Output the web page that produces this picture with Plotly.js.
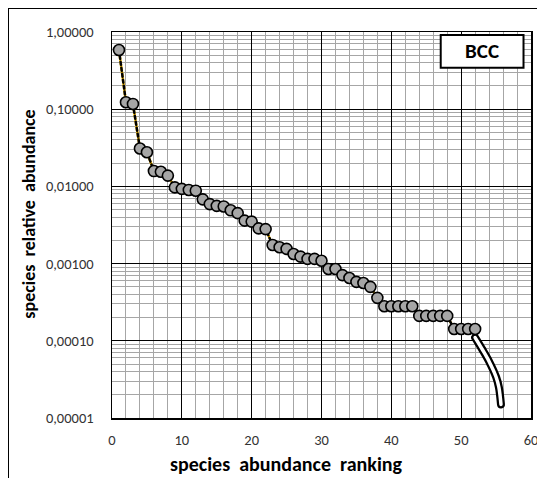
<!DOCTYPE html>
<html>
<head>
<meta charset="utf-8">
<script src="https://cdn.plot.ly/plotly-3.0.1.min.js"></script>
<style>
html,body{margin:0;padding:0;overflow:hidden;background:#fff;}
#frame{position:absolute;left:8px;top:8px;width:700px;height:700px;border:1.3px solid #000;box-sizing:border-box;}
#chart{position:absolute;left:0;top:0;width:537px;height:478px;}
#chart .scatterlayer .js-line{stroke-linecap:round;}
</style>
</head>
<body>
<div id="frame"></div>
<div id="chart"></div>
<script>
// species abundance ranking (x) and relative abundance (y)
const rank = [1,2,3,4,5,6,7,8,9,10,11,12,13,14,15,16,17,18,19,20,21,22,23,24,25,26,27,28,29,30,
  31,32,33,34,35,36,37,38,39,40,41,42,43,44,45,46,47,48,49,50,51,52];
const abundance = [0.585,0.123,0.117,0.031,0.0277,0.0158,0.0155,0.0138,0.0097,0.0093,0.0090,0.0088,
  0.0068,0.0059,0.0056,0.0055,0.0049,0.0045,0.0036,0.0035,0.00286,0.0028,0.00174,0.00163,0.00155,
  0.00133,0.00123,0.00115,0.00115,0.00109,0.00085,0.00085,0.00071,0.00065,0.00058,0.00056,0.0005,
  0.00036,0.00028,0.00028,0.00028,0.00028,0.00028,0.00021,0.00021,0.00021,0.00021,0.00021,
  0.000142,0.000142,0.000142,0.000142];
// tail curve
const tailX = [52,53,54,55,55.4,55.7];
const tailY = [0.00011,0.000078,0.000054,0.000034,0.000025,0.000015];
const xTicks = [0,10,20,30,40,50,60];
const yTicks = [1,0.1,0.01,0.001,0.0001,0.00001];
const panelLabel = 'BCC';
const xTitle = 'species&nbsp;&nbsp;abundance&nbsp;&nbsp;ranking';
const yTitle = 'species&nbsp;&nbsp;relative&nbsp;&nbsp;abundance';

const FONT = 'Carlito, Lato, "Liberation Sans", sans-serif';

const traces = [
  {x: rank, y: abundance, mode: 'lines', line: {color: '#FFC000', width: 2.5}, hoverinfo: 'skip'},
  {x: rank, y: abundance, mode: 'lines', line: {color: '#000', width: 2.5, dash: 'dot'}, hoverinfo: 'skip'},
  {x: tailX, y: tailY, mode: 'lines', line: {color: '#000', width: 8, shape: 'spline'}},
  {x: tailX, y: tailY, mode: 'lines', line: {color: '#fff', width: 3.5, shape: 'spline'}},
  {x: rank, y: abundance, mode: 'markers',
   marker: {size: 11, color: '#A6A6A6', line: {color: '#000', width: 1.6}}}
];

const W = 537, H = 478, L = 111.5, R = 531.5, T = 32, B = 418;
const px = v => (v - L) / (R - L);
const py = v => (B - v) / (B - T);

const layout = {
  width: W, height: H,
  margin: {l: L, r: W - R, t: T, b: H - B, pad: 0},
  paper_bgcolor: 'rgba(0,0,0,0)',
  plot_bgcolor: '#fff',
  showlegend: false,
  separators: ', ',
  font: {family: FONT, color: '#333', size: 14},
  xaxis: {
    range: [0, 60], tickvals: xTicks, ticktext: xTicks.map(String),
    showgrid: true, gridcolor: '#000', gridwidth: 1,
    minor: {dtick: 2, showgrid: true, gridcolor: '#A6A6A6', gridwidth: 1},
    showline: true, linecolor: '#000', linewidth: 1.5, mirror: true,
    zeroline: false, ticks: '', ticklabelstandoff: 8, ticklabeloverflow: 'allow',
    tickfont: {family: FONT, size: 14.5, color: '#333'}
  },
  yaxis: {
    type: 'log', range: [-5, 0], tickvals: yTicks, tickformat: '.5f',
    showgrid: true, gridcolor: '#000', gridwidth: 1,
    minor: {dtick: 'D1', showgrid: true, gridcolor: '#A6A6A6', gridwidth: 1},
    showline: true, linecolor: '#000', linewidth: 1.5, mirror: true,
    zeroline: false, ticks: '', ticklabelstandoff: 14, ticklabeloverflow: 'allow',
    tickfont: {family: FONT, size: 14.5, color: '#333'}
  },
  shapes: [
    {type: 'rect', xref: 'paper', yref: 'paper', x0: px(441), x1: px(524), y0: py(67.7), y1: py(35),
     line: {color: '#000', width: 2}, fillcolor: '#fff', layer: 'above'}
  ],
  annotations: [
    {xref: 'paper', yref: 'paper', x: px(482.5), y: py(51.5), text: '<b>' + panelLabel + '</b>',
     showarrow: false, font: {family: FONT, size: 21, color: '#000'}, xanchor: 'center', yanchor: 'middle'},
    {xref: 'paper', yref: 'paper', x: px(286), y: py(464), text: '<b>' + xTitle + '</b>',
     showarrow: false, font: {family: FONT, size: 20, color: '#000'}, xanchor: 'center', yanchor: 'middle'},
    {xref: 'paper', yref: 'paper', x: px(28), y: py(214), text: '<b>' + yTitle + '</b>', textangle: -90,
     showarrow: false, font: {family: FONT, size: 18, color: '#000'}, xanchor: 'center', yanchor: 'middle'}
  ]
};

Plotly.newPlot('chart', traces, layout, {displayModeBar: false, staticPlot: true});
</script>
</body>
</html>
